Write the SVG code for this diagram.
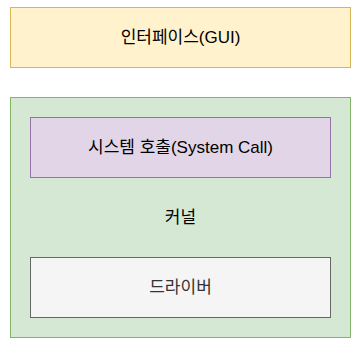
<svg xmlns="http://www.w3.org/2000/svg" width="360" height="345" viewBox="0 0 360 345">
<style>
text{font-family:"Liberation Sans","Noto Sans CJK KR",sans-serif;font-size:17px;text-anchor:middle;dominant-baseline:central;fill:#000}
.y{fill:#fff2cc;stroke:#d6b656}
.g{fill:#d5e8d4;stroke:#82b366}
.p{fill:#e1d5e7;stroke:#9673a6}
.d{fill:#f5f5f5;stroke:#666666}
</style>
<rect width="360" height="345" fill="#ffffff"/>
<g id="gui"><rect class="y" x="10.5" y="7.5" width="340" height="60"/><text x="180.5" y="37.5">인터페이스(GUI)</text></g>
<g id="kernel"><rect class="g" x="10.5" y="97.5" width="340" height="240"/><text x="180.5" y="217">커널</text></g>
<g id="syscall"><rect class="p" x="30.5" y="117.5" width="300" height="60"/><text x="180.5" y="147.5">시스템 호출(System Call)</text></g>
<g id="driver"><rect class="d" x="30.5" y="257.5" width="300" height="60"/><text x="180.5" y="287.5" style="fill:#333333">드라이버</text></g>
<g id="connectors"/>
</svg>
